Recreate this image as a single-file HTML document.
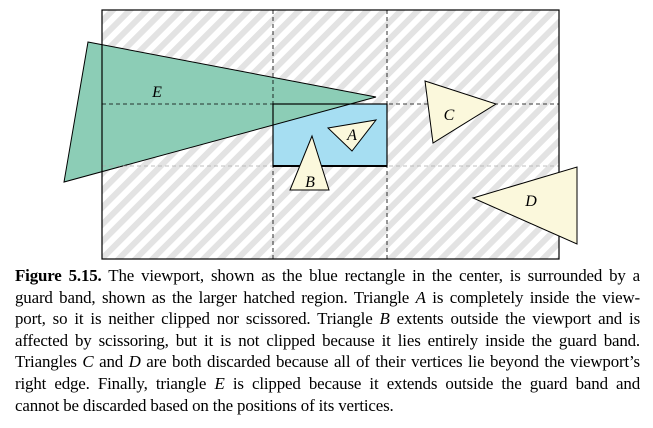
<!DOCTYPE html>
<html><head><meta charset="utf-8"><style>
body{margin:0;width:653px;height:428px;background:#fff;overflow:hidden;position:relative}
svg{position:absolute;left:0;top:0}
.cap{position:absolute;left:15px;top:265px;width:625px;font-family:"Liberation Serif",serif;font-size:16.9px;line-height:21.6px;text-align:justify;color:#000;letter-spacing:-0.15px}
.cap span{display:block;text-align-last:justify;white-space:nowrap}
.cap span.l{text-align-last:left}
</style></head><body>
<svg width="653" height="270" viewBox="0 0 653 270">
<defs>
<pattern id="h" patternUnits="userSpaceOnUse" width="12" height="12" patternTransform="rotate(45)">
<rect width="12" height="12" fill="#fff"/><rect width="6" height="12" fill="#e3e3e3"/>
</pattern>
</defs>
<rect x="102" y="10" width="457" height="249" fill="url(#h)"/>
<rect x="273" y="104" width="114" height="62" fill="#a6def2"/>
<polygon points="88,42 376,97 64,182" fill="#8ccdb6" stroke="#000" stroke-width="1"/>
<g stroke="#000" stroke-width="0.8" stroke-dasharray="4,3" fill="none">
<line x1="273" y1="10" x2="273" y2="259"/>
<line x1="387" y1="10" x2="387" y2="259"/>
<line x1="102" y1="104" x2="559" y2="104"/>
<line x1="102" y1="166" x2="559" y2="166" stroke="#aaa"/>
</g>
<rect x="102" y="10" width="457" height="249" fill="none" stroke="#000" stroke-width="1.2"/>
<rect x="273" y="104" width="114" height="62" fill="none" stroke="#000" stroke-width="1.2"/>
<line x1="273" y1="166" x2="387" y2="166" stroke="#000" stroke-width="2"/>
<g fill="#fbf8dc" stroke="#000" stroke-width="1">
<polygon points="328,128 376,120 352,151"/>
<polygon points="312,136 290,190 329,190"/>
<polygon points="425,81 496,104 433,143"/>
<polygon points="473,198 577,167 577,244"/>
</g>
<g font-family="Liberation Serif,serif" font-style="italic" font-size="16" text-anchor="middle">
<text x="157" y="97">E</text>
<text x="352" y="140">A</text>
<text x="310" y="187">B</text>
<text x="449" y="120">C</text>
<text x="531" y="206">D</text>
</g>
</svg>
<div class="cap">
<span><b>Figure 5.15.</b> The viewport, shown as the blue rectangle in the center, is surrounded by a</span>
<span>guard band, shown as the larger hatched region. Triangle <i>A</i> is completely inside the view-</span>
<span>port, so it is neither clipped nor scissored. Triangle <i>B</i> extents outside the viewport and is</span>
<span>affected by scissoring, but it is not clipped because it lies entirely inside the guard band.</span>
<span>Triangles <i>C</i> and <i>D</i> are both discarded because all of their vertices lie beyond the viewport’s</span>
<span>right edge. Finally, triangle <i>E</i> is clipped because it extends outside the guard band and</span>
<span class="l">cannot be discarded based on the positions of its vertices.</span>
</div>
</body></html>
